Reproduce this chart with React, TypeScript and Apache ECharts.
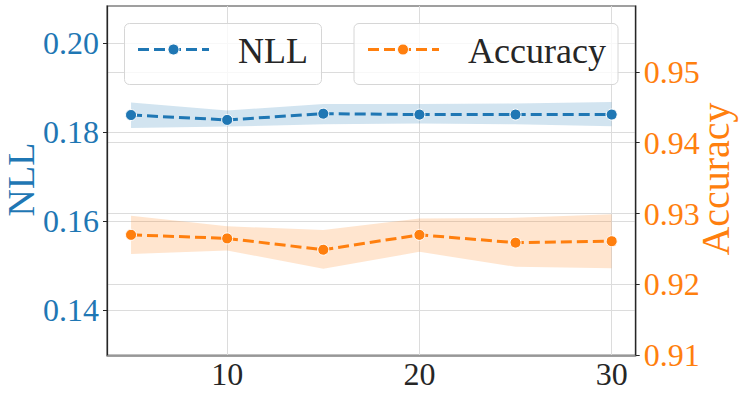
import React, { useEffect, useRef } from "react";
import * as echarts from "echarts";

const epochs = [5, 10, 15, 20, 25, 30];
const nllMean = [0.1839, 0.1828, 0.1842, 0.184, 0.184, 0.184];
const nllLower = [0.181, 0.1813, 0.1818, 0.182, 0.1818, 0.1814];
const nllUpper = [0.1867, 0.1849, 0.1864, 0.1864, 0.1865, 0.1868];
const accMean = [0.927, 0.9265, 0.9249, 0.927, 0.9259, 0.9261];
const accLower = [0.9243, 0.9248, 0.9222, 0.9246, 0.9225, 0.9223];
const accUpper = [0.9297, 0.9282, 0.9277, 0.9293, 0.9294, 0.9299];

const xTicks = [10, 20, 30];
const nllTicks = [0.14, 0.16, 0.18, 0.2];
const accTicks = [0.91, 0.92, 0.93, 0.94, 0.95];

const BLUE = "#1f77b4";
const ORANGE = "#ff7f0e";
const FONT = "'Liberation Serif', 'Times New Roman', serif";

function band(name: string, lower: number[], upper: number[], yIdx: number, fill: string) {
  return {
    type: "custom",
    name,
    yAxisIndex: yIdx,
    silent: true,
    z: 1,
    data: epochs.map((e, i) => [e, lower[i], upper[i]]),
    encode: { x: 0, y: [1, 2] },
    renderItem: (params: any, api: any) => {
      if (params.dataIndex !== 0) return null;
      const top = epochs.map((e, i) => api.coord([e, upper[i]]));
      const bottom = epochs.map((e, i) => api.coord([e, lower[i]])).reverse();
      return { type: "polygon", shape: { points: [...top, ...bottom] }, style: { fill } };
    },
  };
}

function line(name: string, vals: number[], yIdx: number, color: string) {
  return {
    type: "line",
    name,
    yAxisIndex: yIdx,
    z: 3,
    data: epochs.map((e, i) => [e, vals[i]]),
    symbol: "circle",
    symbolSize: 11,
    lineStyle: { color, width: 3, type: [11, 5] },
    itemStyle: { color, borderColor: "#fff", borderWidth: 1 },
  };
}

function yAxis(pos: string, min: number, max: number, ticks: number[], color: string, split: number) {
  return {
    type: "value",
    position: pos,
    min,
    max,
    splitNumber: split,
    axisLine: { show: true, lineStyle: { color: "#262626", width: 1.25 } },
    axisTick: { show: true, length: 4, customValues: ticks, lineStyle: { color: "#262626", width: 1 } },
    axisLabel: {
      color,
      fontSize: 32,
      fontFamily: FONT,
      margin: 8,
      customValues: ticks,
      formatter: (v: number) => v.toFixed(2),
    },
    splitLine: { show: true, lineStyle: { color: "#dcdcdc", width: 1 } },
  };
}

export default function App() {
  const ref = useRef<HTMLDivElement>(null);
  useEffect(() => {
    const chart = echarts.init(ref.current!, null, { renderer: "svg" });
    chart.setOption({
      animation: false,
      backgroundColor: "#ffffff",
      textStyle: { fontFamily: FONT },
      grid: {
        left: 107,
        right: 106.3,
        top: 6,
        bottom: 41.7,
        show: true,
        borderColor: "#808080",
        borderWidth: 1.6,
        backgroundColor: "transparent",
      },
      xAxis: {
        type: "value",
        min: 3.75,
        max: 31.25,
        splitNumber: 3,
        axisLine: { show: true, lineStyle: { color: "#808080", width: 1.6 } },
        axisTick: { show: false, customValues: xTicks },
        axisLabel: { color: "#262626", fontSize: 32, fontFamily: FONT, margin: 3, customValues: xTicks },
        splitLine: { show: true, lineStyle: { color: "#dcdcdc", width: 1 } },
      },
      yAxis: [
        yAxis("left", 0.1299, 0.2084, nllTicks, BLUE, 4),
        yAxis("right", 0.91, 0.9593, accTicks, ORANGE, 5),
      ],
      series: [
        band("NLL band", nllLower, nllUpper, 0, "rgba(31,119,180,0.2)"),
        band("Accuracy band", accLower, accUpper, 1, "rgba(255,127,14,0.2)"),
        line("NLL", nllMean, 0, BLUE),
        line("Accuracy", accMean, 1, ORANGE),
      ],
      graphic: [
        {
          type: "rect", z: 100,
          shape: { x: 124.5, y: 23.5, width: 197, height: 61, r: 5 },
          style: { fill: "rgba(255,255,255,0.8)", stroke: "#d6d6d6", lineWidth: 1 },
        },
        {
          type: "line", z: 101,
          shape: { x1: 138, y1: 49.5, x2: 209, y2: 49.5 },
          style: { stroke: BLUE, lineWidth: 3, lineDash: [11, 5] },
        },
        {
          type: "circle", z: 102,
          shape: { cx: 173.5, cy: 49.5, r: 5.5 },
          style: { fill: BLUE, stroke: "#fff", lineWidth: 1 },
        },
        {
          type: "text", z: 102, x: 238, y: 51,
          style: { text: "NLL", fill: "#262626", fontSize: 36, fontFamily: FONT, verticalAlign: "middle" },
        },
        {
          type: "rect", z: 100,
          shape: { x: 354, y: 23.5, width: 264, height: 61, r: 5 },
          style: { fill: "rgba(255,255,255,0.8)", stroke: "#d6d6d6", lineWidth: 1 },
        },
        {
          type: "line", z: 101,
          shape: { x1: 368, y1: 49.5, x2: 439, y2: 49.5 },
          style: { stroke: ORANGE, lineWidth: 3, lineDash: [11, 5] },
        },
        {
          type: "circle", z: 102,
          shape: { cx: 403, cy: 49.5, r: 5.5 },
          style: { fill: ORANGE, stroke: "#fff", lineWidth: 1 },
        },
        {
          type: "text", z: 102, x: 468, y: 51,
          style: { text: "Accuracy", fill: "#262626", fontSize: 36, fontFamily: FONT, verticalAlign: "middle" },
        },
        {
          type: "text", z: 102, x: 21, y: 179.5, rotation: Math.PI / 2,
          style: { text: "NLL", fill: BLUE, fontSize: 38, fontFamily: FONT, align: "center", verticalAlign: "middle" },
        },
        {
          type: "text", z: 102, x: 715.5, y: 179, rotation: Math.PI / 2,
          style: { text: "Accuracy", fill: ORANGE, fontSize: 40, fontFamily: FONT, align: "center", verticalAlign: "middle" },
        },
      ],
    });
    return () => chart.dispose();
  }, []);
  return <div ref={ref} style={{ position: "fixed", left: 0, top: 0, width: 742, height: 397 }} />;
}
